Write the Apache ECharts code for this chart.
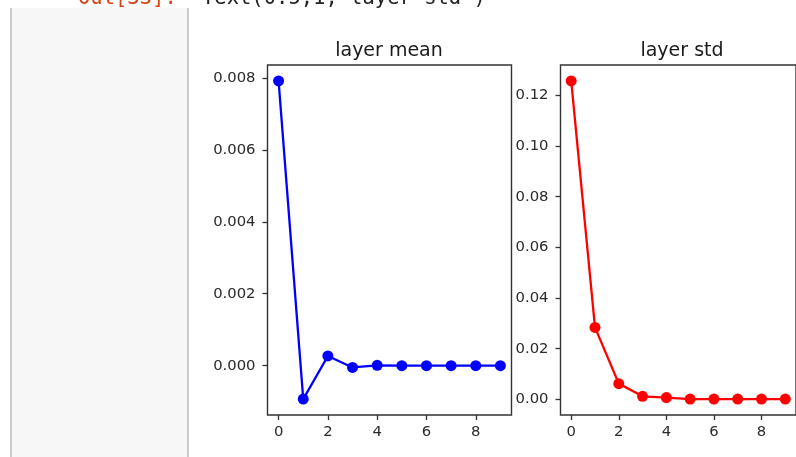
<!DOCTYPE html>
<html>
<head>
<meta charset="utf-8">
<script src="https://cdn.jsdelivr.net/npm/echarts@6/dist/echarts.min.js"></script>
<style>
html,body{margin:0;padding:0;background:#fff;}
#c{width:796px;height:457px;}
</style>
</head>
<body>
<div id="c"></div>
<script>
// ---- data ----
const layerIdx = [0, 1, 2, 3, 4, 5, 6, 7, 8, 9];
const layerMean = [0.00792, -0.00093, 0.00027, -0.00005, 0.00001, 0.0, 0.0, 0.0, 0.0, 0.0];
const layerStd = [0.1257, 0.0284, 0.0062, 0.0012, 0.0007, 0.0001, 0.0001, 0.0001, 0.0001, 0.0001];
const xTicks = [0, 2, 4, 6, 8];
const meanTicks = [0.000, 0.002, 0.004, 0.006, 0.008];
const stdTicks = [0.00, 0.02, 0.04, 0.06, 0.08, 0.10, 0.12];
const titles = ['layer mean', 'layer std'];
const outPrompt = 'Out[33]:';
const outText = "Text(0.5,1,'layer std')";

function pad(arr) {
  const lo = Math.min(...arr), hi = Math.max(...arr), r = hi - lo;
  return [lo - 0.05 * r, hi + 0.05 * r];
}
const xr = pad(layerIdx), mr = pad(layerMean), sr = pad(layerStd);

const FONT = 'DejaVu Sans';
const TXT = '#2a2a2a';
const tickFS = 14.8;
const FRAME = '#333333';

function xAxis(gi) {
  return {
    type: 'value', gridIndex: gi, min: xr[0], max: xr[1], position: 'bottom',
    axisLine: { show: false, onZero: false },
    splitLine: { show: false },
    axisTick: { show: true, inside: false, customValues: xTicks, length: 5, lineStyle: { color: FRAME, width: 1.3 } },
    axisLabel: { customValues: xTicks, margin: 10, color: TXT, fontFamily: FONT, fontSize: tickFS,
      formatter: v => String(v) }
  };
}
function yAxis(gi, rng, ticks, dec) {
  return {
    type: 'value', gridIndex: gi, min: rng[0], max: rng[1], position: 'left',
    axisLine: { show: false, onZero: false },
    splitLine: { show: false },
    axisTick: { show: true, inside: false, customValues: ticks, length: 5, lineStyle: { color: FRAME, width: 1.3 } },
    axisLabel: { customValues: ticks, margin: 12, color: TXT, fontFamily: FONT, fontSize: tickFS,
      formatter: v => Number(v).toFixed(dec) }
  };
}

const chart = echarts.init(document.getElementById('c'), null, { renderer: 'canvas' });
chart.setOption({
  backgroundColor: '#ffffff',
  animation: false,
  grid: [
    { left: 267.5, top: 65, width: 244, height: 350, show: true, borderColor: FRAME, borderWidth: 1.4, backgroundColor: 'transparent' },
    { left: 560.5, top: 65, width: 244, height: 350, show: true, borderColor: FRAME, borderWidth: 1.4, backgroundColor: 'transparent' }
  ],
  xAxis: [xAxis(0), xAxis(1)],
  yAxis: [yAxis(0, mr, meanTicks, 3), yAxis(1, sr, stdTicks, 2)],
  series: [
    { type: 'line', xAxisIndex: 0, yAxisIndex: 0, data: layerIdx.map((x, i) => [x, layerMean[i]]),
      symbol: 'circle', symbolSize: 11, showAllSymbol: true,
      lineStyle: { color: '#0000ff', width: 2.3 }, itemStyle: { color: '#0000ff' }, z: 3 },
    { type: 'line', xAxisIndex: 1, yAxisIndex: 1, data: layerIdx.map((x, i) => [x, layerStd[i]]),
      symbol: 'circle', symbolSize: 11, showAllSymbol: true,
      lineStyle: { color: '#ff0000', width: 2.3 }, itemStyle: { color: '#ff0000' }, z: 3 }
  ],
  graphic: [
    { type: 'rect', z: -10, shape: { x: 11, y: 8, width: 177, height: 460 }, style: { fill: '#f7f7f7' } },
    { type: 'line', z: -9, shape: { x1: 11, y1: 8, x2: 11, y2: 460 }, style: { stroke: '#cccccc', lineWidth: 2 } },
    { type: 'line', z: -9, shape: { x1: 188, y1: 8, x2: 188, y2: 460 }, style: { stroke: '#cccccc', lineWidth: 2 } },
    { type: 'text', x: 78, y: 9, style: { text: outPrompt, fill: '#d84315', font: '20.5px "DejaVu Sans Mono"', textVerticalAlign: 'bottom' } },
    { type: 'text', x: 202, y: 9, style: { text: outText, fill: '#222', font: '20.5px "DejaVu Sans Mono"', textVerticalAlign: 'bottom' } },
    { type: 'text', x: 389, y: 51, style: { text: titles[0], fill: '#1a1a1a', font: '19px "DejaVu Sans"', textAlign: 'center', textVerticalAlign: 'middle' } },
    { type: 'text', x: 682, y: 51, style: { text: titles[1], fill: '#1a1a1a', font: '19px "DejaVu Sans"', textAlign: 'center', textVerticalAlign: 'middle' } }
  ]
});
</script>
</body>
</html>
